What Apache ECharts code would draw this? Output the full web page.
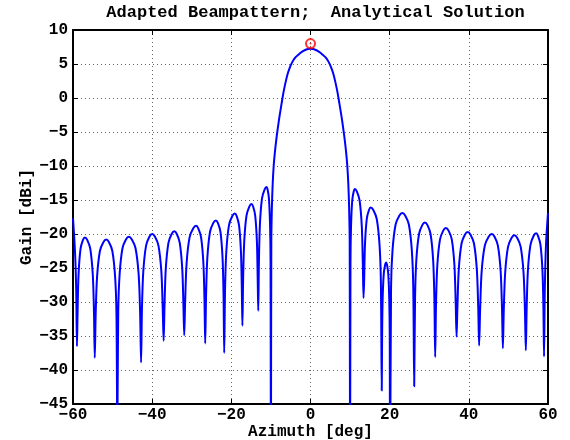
<!DOCTYPE html>
<html><head><meta charset="utf-8">
<script src="https://cdn.jsdelivr.net/npm/echarts@6/dist/echarts.min.js"></script>
<style>html,body{margin:0;padding:0;background:#fff}#c{width:570px;height:440px}</style>
</head><body><div id="c"></div>
<script>
// Azimuth samples [deg]
const azimuthDeg = [
 -60, -59.5, -59.2, -59.0,
 -58.84, -58.6, -58.1, -57.5, -57.0, -56.38, -55.63, -55.0, -54.7, -54.5,
 -54.27, -53.92, -53.2, -52.33, -51.6, -50.9, -50.06, -49.36, -49.02, -48.8,
 -48.57, -48.22, -47.5, -46.63, -45.9, -45.13, -44.2, -43.42, -43.05, -42.8,
 -42.58, -42.24, -41.54, -40.7, -40.0, -39.28, -38.41, -37.68, -37.33, -37.1,
 -36.88, -36.56, -35.89, -35.08, -34.4, -33.78, -33.03, -32.4, -32.1, -31.9,
 -31.66, -31.3, -30.55, -29.65, -28.9, -28.33, -27.64, -27.06, -26.78, -26.6,
 -26.38, -26.06, -25.39, -24.58, -23.9, -23.38, -22.75, -22.22, -21.97, -21.8,
 -21.58, -21.26, -20.59, -19.78, -19.1, -18.63, -18.06, -17.58, -17.35, -17.2,
 -17.02, -16.74, -16.17, -15.48, -14.9, -14.48, -13.97, -13.54, -13.34, -13.2,
 -13.03, -12.78, -12.26, -11.63, -11.1, -10.83, -10.5, -10.22, -10.09, -10.0,
 -9.9, -9.75, -9.55, -9.3, -9.0, -8.7, -8.3, -7.8, -7.3, -6.8, -6.3, -5.8, -5.3, -4.8, -4.3, -3.7, -3.1, -2.5, -1.8, -1.2, -0.6, 0,
 0.6, 1.2, 1.8, 2.5, 3.1, 3.7, 4.3, 4.8, 5.3, 5.8, 6.3, 6.8, 7.3, 7.8, 8.3, 8.7, 9.0, 9.3, 9.55, 9.75, 9.9, 10.0,
 10.1, 10.24, 10.54, 10.9, 11.2, 11.75, 12.41, 12.96, 13.22, 13.4,
 13.54, 13.76, 14.21, 14.75, 15.2, 15.9, 16.74, 17.44, 17.78, 18.0,
 18.09, 18.22, 18.5, 18.83, 19.1, 19.35, 19.65, 19.9, 20.02, 20.1,
 20.35, 20.72, 21.5, 22.43, 23.2, 23.95, 24.85, 25.6, 25.96, 26.2,
 26.42, 26.74, 27.42, 28.23, 28.9, 29.55, 30.33, 30.98, 31.29, 31.5,
 31.72, 32.04, 32.72, 33.53, 34.2, 34.88, 35.69, 36.36, 36.68, 36.9,
 37.12, 37.46, 38.16, 39.0, 39.7, 40.43, 41.3, 42.02, 42.37, 42.6,
 42.86, 43.24, 44.04, 45.0, 45.8, 46.5, 47.34, 48.04, 48.38, 48.6,
 48.83, 49.18, 49.9, 50.78, 51.5, 52.23, 53.1, 53.82, 54.17, 54.4,
 54.61, 54.92, 55.57, 56.35, 57.0, 57.5, 58.1, 58.6, 58.84, 59.0,
 59.2, 59.5, 60
];
// Gain [dBi] at those azimuths
const gainDbi = [
 -17.7, -22.5, -28, -36.5,
 -31.5, -26.0, -22.2, -20.9, -20.5, -20.9, -22.2, -26.0, -31.5, -38.2,
 -31.8, -26.3, -22.5, -21.2, -20.8, -21.2, -22.5, -26.3, -31.8, -50,
 -31.4, -25.9, -22.1, -20.8, -20.4, -20.8, -22.1, -25.9, -31.4, -38.9,
 -31.0, -25.5, -21.7, -20.4, -20.0, -20.4, -21.7, -25.5, -31.0, -35.7,
 -30.6, -25.1, -21.3, -20.0, -19.6, -20.0, -21.3, -25.1, -30.6, -34.9,
 -29.8, -24.3, -20.5, -19.2, -18.8, -19.2, -20.5, -24.3, -29.8, -36.1,
 -29.0, -23.5, -19.7, -18.4, -18.0, -18.4, -19.7, -23.5, -29.0, -37.5,
 -28.0, -22.5, -18.7, -17.4, -17.0, -17.4, -18.7, -22.5, -28.0, -33.5,
 -26.6, -21.1, -17.3, -16.0, -15.6, -16.0, -17.3, -21.1, -26.6, -31.3,
 -24.1, -18.6, -14.8, -13.5, -13.1, -13.5, -14.8, -18.6, -24.1, -60,
 -21, -16, -12.6, -10.0, -8.0, -6.4, -4.6, -2.6, -0.8, 0.9, 2.3, 3.5, 4.35, 5.05, 5.6, 6.05, 6.35, 6.65, 6.92, 7.1, 7.21, 7.25,
 7.21, 7.1, 6.92, 6.65, 6.35, 6.05, 5.6, 5.05, 4.35, 3.5, 2.3, 0.9, -0.8, -2.6, -4.6, -6.4, -8.0, -10.0, -12.6, -16, -21, -60,
 -24.4, -18.9, -15.1, -13.8, -13.4, -13.8, -15.1, -18.9, -24.4, -29.4,
 -27.1, -21.6, -17.8, -16.5, -16.1, -16.5, -17.8, -21.6, -27.1, -43.0,
 -35.2, -29.7, -25.9, -24.6, -24.2, -24.6, -25.9, -29.7, -35.2, -60,
 -27.9, -22.4, -18.6, -17.3, -16.9, -17.3, -18.6, -22.4, -27.9, -42.4,
 -29.3, -23.8, -20.0, -18.7, -18.3, -18.7, -20.0, -23.8, -29.3, -38.1,
 -30.1, -24.6, -20.8, -19.5, -19.1, -19.5, -20.8, -24.6, -30.1, -35.1,
 -30.7, -25.2, -21.4, -20.1, -19.7, -20.1, -21.4, -25.2, -30.7, -36.4,
 -31.0, -25.5, -21.7, -20.4, -20.0, -20.4, -21.7, -25.5, -31.0, -36.8,
 -31.2, -25.7, -21.9, -20.6, -20.2, -20.6, -21.9, -25.7, -31.2, -37.1,
 -30.9, -25.4, -21.6, -20.3, -19.9, -20.3, -21.6, -25.4, -30.9, -38.0,
 -28, -21.5, -16.9
];
const peakAzimuth = [0];
const peakGain = [8];
const xTickValues = [-60, -40, -20, 0, 20, 40, 60];
const yTickValues = [-45, -40, -35, -30, -25, -20, -15, -10, -5, 0, 5, 10];

const FONT = 'Liberation Mono';
const curve = azimuthDeg.map((a, i) => [a, gainDbi[i]]);
const peak = peakAzimuth.map((a, i) => [a, peakGain[i]]);
const fmt = v => String(v).replace('-', '\u2212');

const chart = echarts.init(document.getElementById('c'), null, {renderer: 'canvas'});
const axisLine = {show: true, onZero: false, lineStyle: {color: '#000', width: 2}};
const tick = {show: true, inside: true, length: 5, lineStyle: {color: '#000', width: 1}};
const grid = {show: true, lineStyle: {color: '#666', width: 1, type: [1, 3]}};
const lab = {fontFamily: FONT, fontWeight: 'bold', fontSize: 16, color: '#000'};
chart.setOption({
  animation: false,
  backgroundColor: '#fff',
  title: {
    text: 'Adapted Beampattern;  Analytical Solution',
    left: 310.5, top: -1, textAlign: 'center',
    textStyle: {fontFamily: FONT, fontWeight: 'bold', fontSize: 17, color: '#000'}
  },
  grid: {left: 73, right: 22, top: 30, bottom: 36, containLabel: false, outerBoundsMode: 'none'},
  xAxis: [{
    type: 'value', min: xTickValues[0], max: xTickValues[xTickValues.length - 1], interval: 20,
    position: 'bottom',
    axisLine, axisTick: tick, splitLine: grid,
    axisLabel: Object.assign({margin: 3, formatter: fmt}, lab),
    name: 'Azimuth [deg]', nameLocation: 'middle', nameGap: 20, nameMoveOverlap: false,
    nameTextStyle: {fontFamily: FONT, fontWeight: 'bold', fontSize: 16, color: '#000'}
  }, {
    type: 'value', min: -60, max: 60, interval: 20, position: 'top',
    axisLine, axisTick: tick, splitLine: {show: false}, axisLabel: {show: false}
  }],
  yAxis: [{
    type: 'value', min: yTickValues[0], max: yTickValues[yTickValues.length - 1], interval: 5,
    position: 'left',
    axisLine, axisTick: tick, splitLine: grid,
    axisLabel: Object.assign({margin: 5, formatter: fmt}, lab),
    name: 'Gain [dBi]', nameLocation: 'middle', nameGap: 38, nameRotate: 90, nameMoveOverlap: false,
    nameTextStyle: {fontFamily: FONT, fontWeight: 'bold', fontSize: 16, color: '#000'}
  }, {
    type: 'value', min: -45, max: 10, interval: 5, position: 'right',
    axisLine, axisTick: tick, splitLine: {show: false}, axisLabel: {show: false}
  }],
  series: [{
    type: 'line', data: curve, xAxisIndex: 0, yAxisIndex: 0,
    showSymbol: false, symbol: 'none', clip: true, smooth: 0.3,
    lineStyle: {color: '#0000ff', width: 2, join: 'round'}
  }, {
    type: 'scatter', data: peak, symbol: 'circle', symbolSize: 9,
    itemStyle: {color: 'rgba(0,0,0,0)', borderColor: '#ff0000', borderWidth: 2}, z: 5
  }, {
    type: 'scatter', data: peak, symbol: 'circle', symbolSize: 2,
    itemStyle: {color: '#ff0000'}, z: 6
  }]
});
</script>
</body></html>
